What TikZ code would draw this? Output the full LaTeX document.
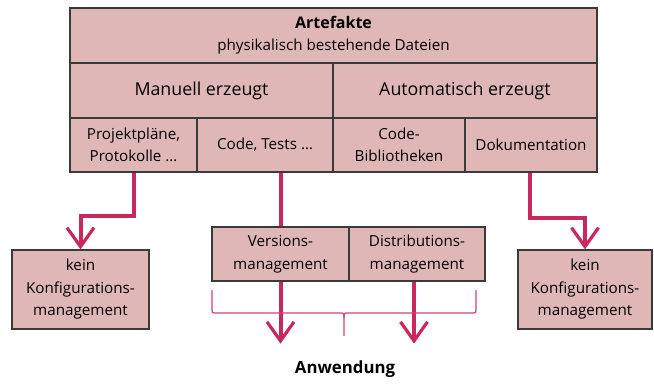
\documentclass[tikz,border=0pt]{standalone}
\usepackage{fontspec}
\setmainfont{Open Sans}
\usetikzlibrary{arrows.meta,calc}
\definecolor{boxfill}{HTML}{E0B7B7}
\definecolor{boxline}{HTML}{3A3A3A}
\definecolor{arrowc}{HTML}{C8285A}
\definecolor{bracec}{HTML}{CC4470}
\tikzset{
  box/.style={draw=boxline, line width=1.2pt, fill=boxfill, align=center, inner sep=0pt,
    font=\fontsize{15.2}{22.5}\selectfont},
  bigtext/.style={font=\fontsize{17.8}{22}\selectfont},
  flow/.style={draw=arrowc, line width=4pt},
  flowhead/.style={flow, -{Straight Barb[length=19pt,width=27pt,line width=3.2pt]}},
  bracestyle/.style={draw=bracec, line width=1.3pt},
}
\begin{document}
\begin{tikzpicture}[x=1pt,y=-1pt]
\useasboundingbox (0,0) rectangle (654,384);
\node[box, minimum width=527, minimum height=55] (art) at (333.5,35.5)
  {{\fontsize{16}{22}\selectfont\bfseries Artefakte}\\[-0.5pt]physikalisch bestehende Dateien};
\node[box, bigtext, minimum width=263, minimum height=55] (man) at (201.5,90.5) {Manuell erzeugt};
\node[box, bigtext, minimum width=264, minimum height=55] (auto) at (465,90.5) {Automatisch erzeugt};
\node[box, minimum width=127, minimum height=54] (proj) at (133.5,145) {Projektpläne,\\Protokolle \dots};
\node[box, minimum width=136, minimum height=54] (code) at (265,145) {Code, Tests \dots};
\node[box, minimum width=132, minimum height=54] (lib) at (399,145) {Code-\\Bibliotheken};
\node[box, minimum width=132, minimum height=54] (doku) at (531,145) {Dokumentation};
\node[box, minimum width=137, minimum height=54] (vers) at (280.5,254) {Versions-\\management};
\node[box, minimum width=136, minimum height=54] (dist) at (417,254) {Distributions-\\management};
\node[box, minimum width=137, minimum height=79] (keinL) at (80.5,289.5) {kein\\Konfigurations-\\management};
\node[box, minimum width=134, minimum height=79] (keinR) at (585,289.5) {kein\\Konfigurations-\\management};
\node[font=\fontsize{16.8}{20}\selectfont\bfseries] (anw) at (345,369) {Anwendung};
\coordinate (ve) at ($(vers.south)+(0,62)$);
\coordinate (de) at ($(dist.south)+(-3,62)$);
% connectors
\draw[flowhead] (proj.south) -- ++(0,43) -| (keinL.north);
\draw[flowhead] ($(doku.south)+(-1,0)$) -- ++(0,45) -| (keinR.north);
\draw[flow] (vers.north |- code.south) -- (vers.north);
\draw[flow] ($(dist.north)+(-3,0)$ |- lib.south) -- ($(dist.north)+(-3,0)$);
\draw[flowhead] (vers.south) -- (ve);
\draw[flowhead] ($(dist.south)+(-3,0)$) -- (de);
% brace
\draw[bracestyle] (212,290) -- (212,308) .. controls (212,313) .. (217,313) -- (339,313)
  .. controls (344,313) .. (344,318) -- (344,336);
\draw[bracestyle] (344,318) .. controls (344,313) .. (349,313) -- (471,313)
  .. controls (476,313) .. (476,308) -- (476,290);
\end{tikzpicture}
\end{document}
